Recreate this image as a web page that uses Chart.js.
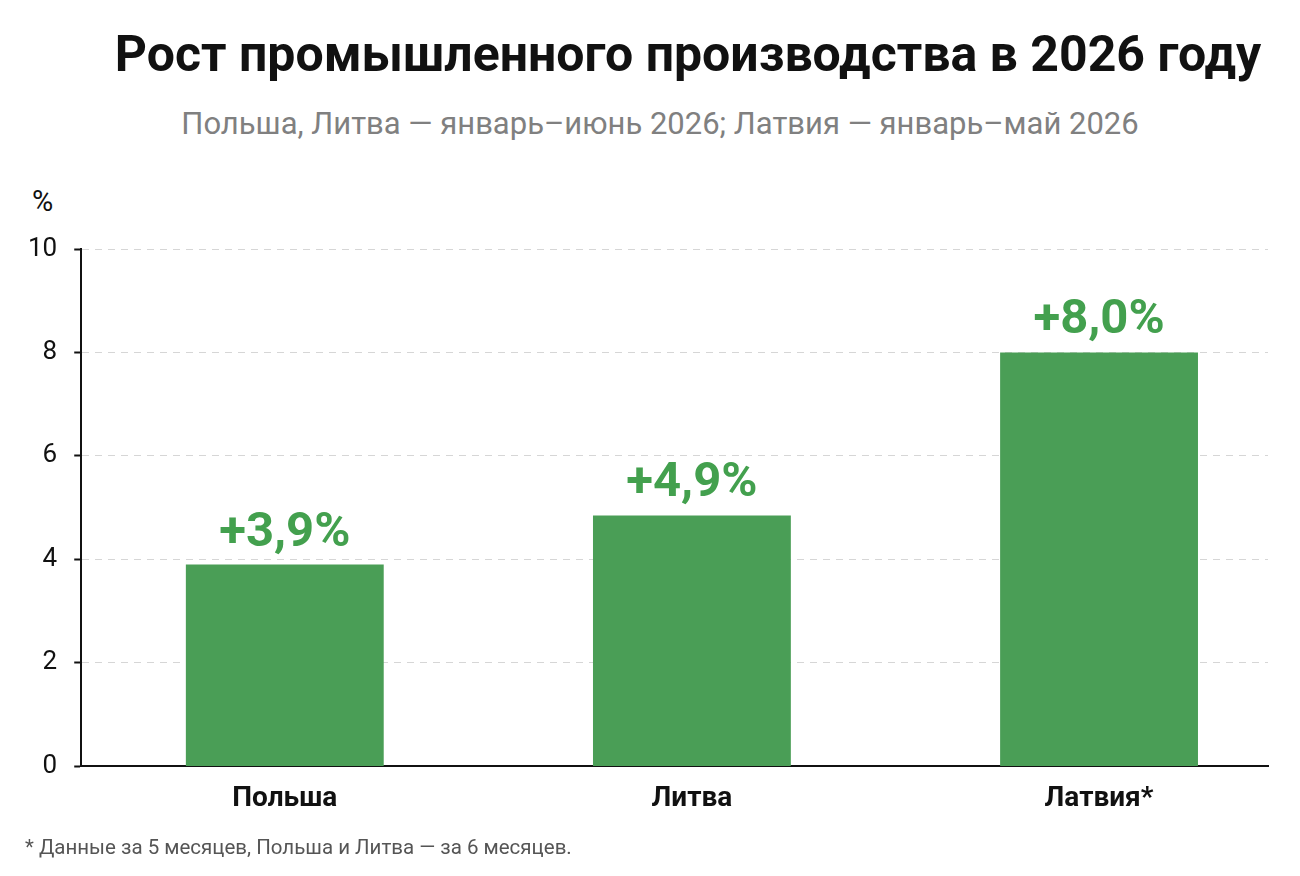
<!DOCTYPE html>
<html lang="ru">
<head>
<meta charset="utf-8">
<script src="https://cdn.jsdelivr.net/npm/chart.js@4"></script>
<style>
  html, body { margin: 0; padding: 0; background: #fff; }
  body { width: 1300px; height: 876px; position: relative; overflow: hidden; font-family: Roboto, "Noto Sans", sans-serif; }
  #wrap { position: absolute; left: 0; top: 0; width: 1300px; height: 876px; }
  .title { position: absolute; left: 0; width: 1376px; top: 25px; text-align: center; font-weight: 700; font-size: 50px; color: #111; }
  .subtitle { position: absolute; left: 0; width: 1320px; top: 105px; text-align: center; font-size: 31px; color: #808080; }
  .unit { position: absolute; left: 32px; top: 184px; font-size: 29px; color: #111; }
  .note { position: absolute; left: 25px; top: 835px; font-size: 20.5px; color: #555; }
</style>
</head>
<body>
<div class="title">Рост промышленного производства в 2026 году</div>
<div class="subtitle">Польша, Литва — январь–июнь 2026; Латвия — январь–май 2026</div>
<div class="unit">%</div>
<div id="wrap"><canvas id="growth-chart"></canvas></div>
<div class="note">* Данные за 5 месяцев, Польша и Литва — за 6 месяцев.</div>
<script>
// Countries and growth values (%)
const countries = ['Польша', 'Литва', 'Латвия*'];
const growth = [3.9, 4.85, 8.0];
const growthLabels = ['+3,9%', '+4,9%', '+8,0%'];
const yTicks = [0, 2, 4, 6, 8, 10];

const GREEN = '#4a9e56';

// value labels above each bar
const valueLabels = {
    id: 'valueLabels',
    afterDatasetsDraw(chart) {
        const c = chart.ctx;
        const meta = chart.getDatasetMeta(0);
        c.save();
        c.fillStyle = '#43a04e';
        c.font = 'bold 49px Roboto';
        c.textAlign = 'center';
        c.textBaseline = 'alphabetic';
        meta.data.forEach((bar, i) => {
            c.fillText(growthLabels[i], bar.x, bar.y - 19);
        });
        c.restore();
    }
};

const ctx = document.getElementById('growth-chart');
const growthChart = new Chart(ctx, {
    type: 'bar',
    data: {
        datasets: [{
            data: growth.map((v, i) => ({ x: i, y: v })),
            backgroundColor: GREEN,
            categoryPercentage: 0.486,
            barPercentage: 1,
        }]
    },
    options: {
        responsive: true,
        maintainAspectRatio: false,
        animation: false,
        layout: { padding: { top: 249, left: 11, right: 32, bottom: 44 } },
        plugins: {
            legend: { display: false },
            tooltip: { enabled: false }
        },
        scales: {
            x: {
                type: 'linear',
                offset: false,
                min: -0.5,
                max: 2.415,
                afterBuildTicks: (scale) => { scale.ticks = countries.map((_, i) => ({ value: i })); },
                grid: { display: false, drawTicks: false, offset: false },
                border: { color: '#111', width: 2 },
                ticks: {
                    callback: (v) => countries[v],
                    color: '#111',
                    font: { family: 'Roboto', size: 28, weight: 'bold' },
                    padding: 16,
                    maxRotation: 0,
                }
            },
            y: {
                min: 0,
                max: 10,
                afterBuildTicks: (scale) => { scale.ticks = yTicks.map(v => ({ value: v })); },
                grid: { color: '#d6d6d6', tickColor: '#111', tickLength: 7, tickWidth: 2 },
                border: { color: '#111', width: 2, dash: [7, 6] },
                ticks: {
                    color: '#111',
                    font: { family: 'Roboto', size: 26 },
                    padding: 17,
                }
            }
        }
    },
    plugins: [valueLabels]
});
</script>
</body>
</html>
